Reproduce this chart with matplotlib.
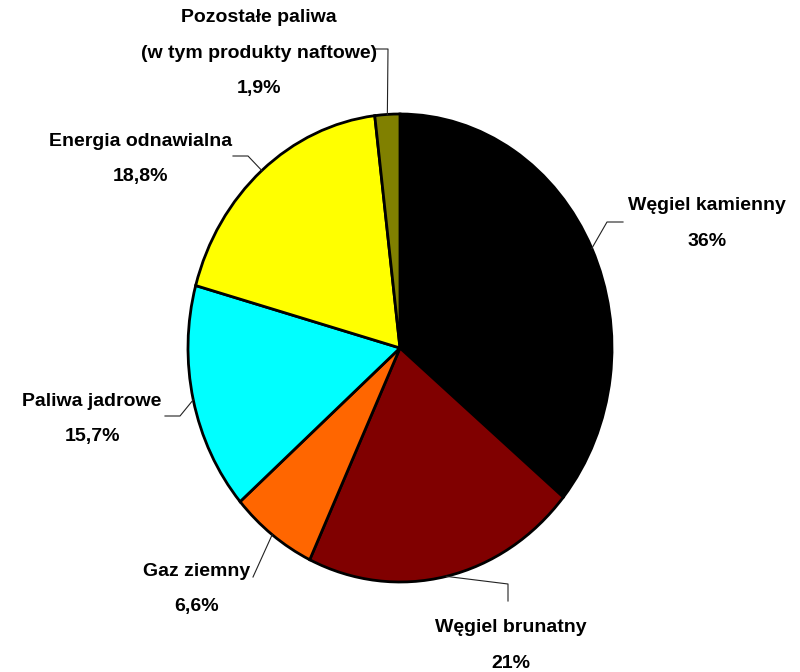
import numpy as np
import matplotlib.pyplot as plt

plt.rcParams['font.family'] = ['Liberation Sans', 'DejaVu Sans']

# dane
labels = ["Węgiel kamienny", "Węgiel brunatny", "Gaz ziemny",
          "Paliwa jadrowe", "Energia odnawialna",
          "Pozostałe paliwa\n(w tym produkty naftowe)"]
values = [36.0, 21.0, 6.6, 15.7, 18.8, 1.9]
colors = ['#000000', '#800000', '#FF6600', '#00FFFF', '#FFFF00', '#808000']

# pozycje etykiet (piksele) i punkty zalamania linii
label_pos = [(707, 206), (511, 628), (197, 572), (92, 402), (141, 141), (259, 18)]
elbows = [[(623, 222), (607, 222)],
          [(508, 601), (508, 584)],
          [(253, 577)],
          [(165, 416), (180, 416)],
          [(233, 156), (248, 156)],
          [(374, 49), (388, 49)]]

W, H = 800, 672
cx, cy, rx, ry = 400, 348, 212, 234

fig = plt.figure(figsize=(W / 100, H / 100), dpi=100)
ax = fig.add_axes([(cx - rx) / W, (H - cy - ry) / H, 2 * rx / W, 2 * ry / H])

wedges, _ = ax.pie(values, colors=colors, startangle=90, counterclock=False,
                   wedgeprops=dict(edgecolor='black', linewidth=2.0))
ax.set_aspect('auto')
ax.set_xlim(-1, 1)
ax.set_ylim(-1, 1)
ax.axis('off')


def px(x, y):
    return (x - cx) / rx, (cy - y) / ry


def fmt(v):
    s = f"{v:.1f}".replace('.', ',')
    return s[:-2] + '%' if s.endswith(',0') else s + '%'


for w, lab, v, pos, elb in zip(wedges, labels, values, label_pos, elbows):
    ang = np.deg2rad((w.theta1 + w.theta2) / 2)
    ex, ey = np.cos(ang), np.sin(ang)
    pts = [px(*p) for p in elb] + [(ex, ey)]
    xs, ys = zip(*pts)
    ax.plot(xs, ys, color='#222222', lw=0.8, clip_on=False)
    lines = lab.split('\n') + [fmt(v)]
    for i, t in enumerate(lines):
        tx, ty = px(pos[0], pos[1] + 35 * i)
        ax.text(tx, ty, t, ha='center', va='center', fontsize=14,
                fontweight='bold', clip_on=False)

fig.savefig('out.png', dpi=100, facecolor='white')
